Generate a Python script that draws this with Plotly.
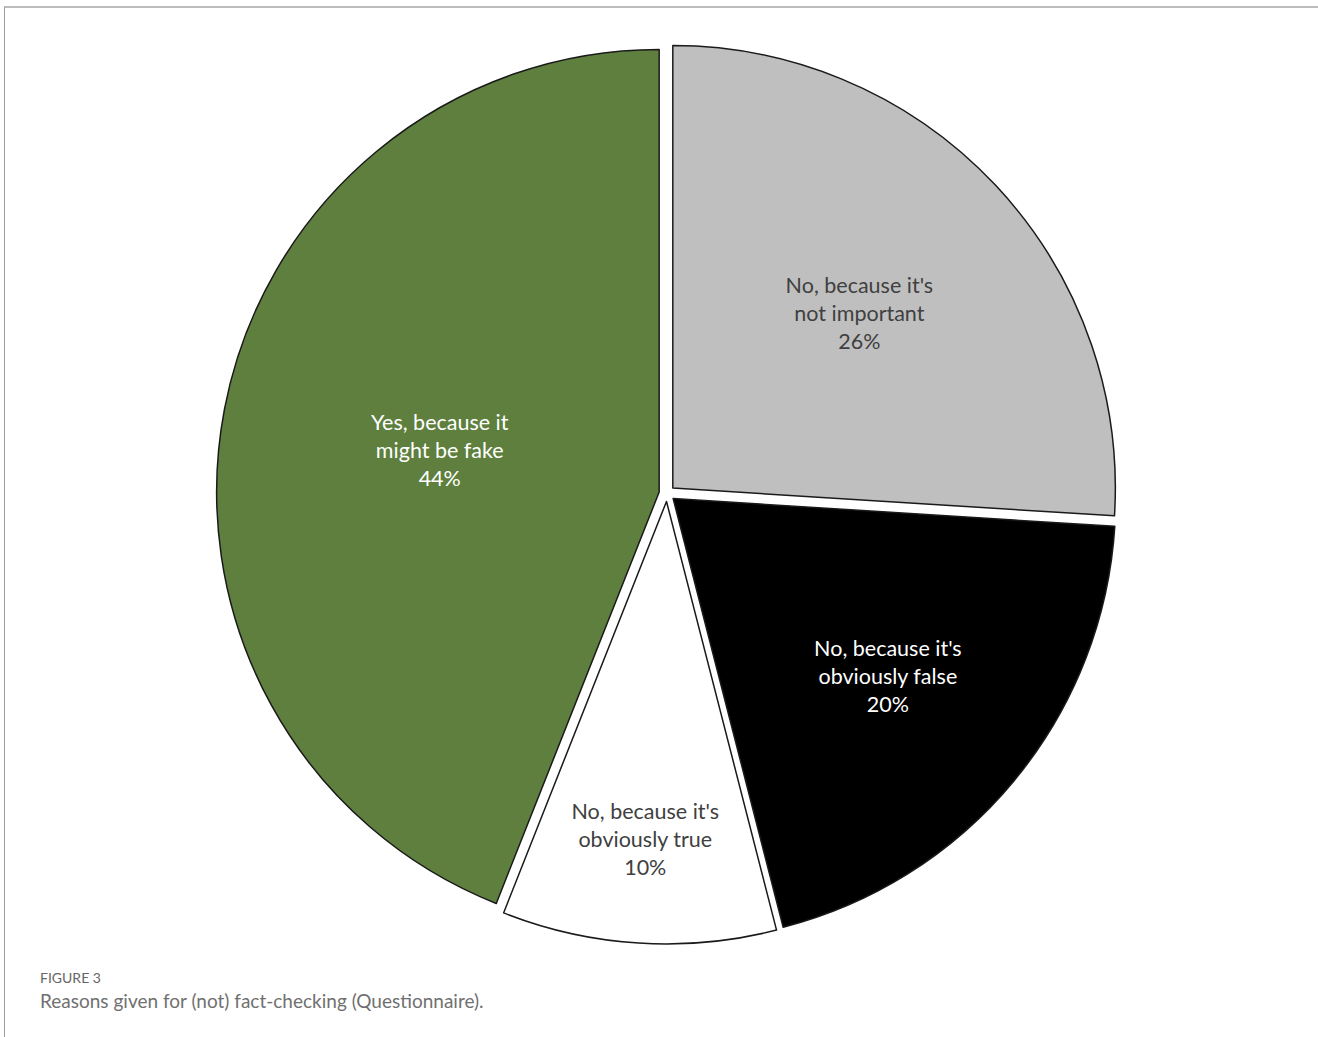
import plotly.graph_objects as go

categories = ["No, because it's not important", "No, because it's obviously false",
              "No, because it's obviously true", "Yes, because it might be fake"]
display_text = ["No, because it's<br>not important", "No, because it's<br>obviously false",
                "No, because it's<br>obviously true", "Yes, because it<br>might be fake"]
values = [26, 20, 10, 44]
colors = ["#BFBFBF", "#000000", "#FFFFFF", "#5E7F3E"]
text_colors = ["#404040", "#FFFFFF", "#404040", "#FFFFFF"]

W, H = 1318, 1037
ml, mr, mt, mb = 216, 200, 43, 93
pw, ph = W - ml - mr, H - mt - mb

fig = go.Figure(go.Pie(
    labels=categories,
    values=values,
    text=display_text,
    texttemplate="%{text}<br>%{value}%",
    textposition="inside",
    insidetextorientation="horizontal",
    sort=False,
    direction="clockwise",
    rotation=0,
    pull=0.018,
    marker=dict(colors=colors, line=dict(color="#1A1A1A", width=1.5)),
    textfont=dict(family="Lato, Open Sans, sans-serif", size=21.5, color=text_colors),
    showlegend=False,
    hoverinfo="label+percent",
))

def px_x(x):
    return (x - ml) / pw

def px_y(y):
    return (H - mb - y) / ph

fig.update_layout(
    width=W, height=H,
    margin=dict(l=ml, r=mr, t=mt, b=mb),
    paper_bgcolor="white",
    plot_bgcolor="white",
    shapes=[
        dict(type="line", xref="paper", yref="paper", x0=px_x(4), x1=px_x(W + 5),
             y0=px_y(7), y1=px_y(7), line=dict(color="#BDBDBD", width=2)),
        dict(type="line", xref="paper", yref="paper", x0=px_x(4.5), x1=px_x(4.5),
             y0=px_y(7), y1=px_y(H + 5), line=dict(color="#9E9E9E", width=1)),
    ],
    annotations=[
        dict(text="FIGURE 3", xref="paper", yref="paper", x=px_x(38), y=px_y(977),
             xanchor="left", yanchor="middle", showarrow=False,
             font=dict(family="Lato, Open Sans, sans-serif", size=14, color="#666666")),
        dict(text="Reasons given for (not) fact-checking (Questionnaire).", xref="paper", yref="paper",
             x=px_x(38), y=px_y(1000), xanchor="left", yanchor="middle", showarrow=False,
             font=dict(family="Lato, Open Sans, sans-serif", size=19, color="#707070")),
    ],
)

fig.write_html("out.html", config={"displayModeBar": False},
               post_script="document.body.style.margin='0';document.body.style.padding='0';")
